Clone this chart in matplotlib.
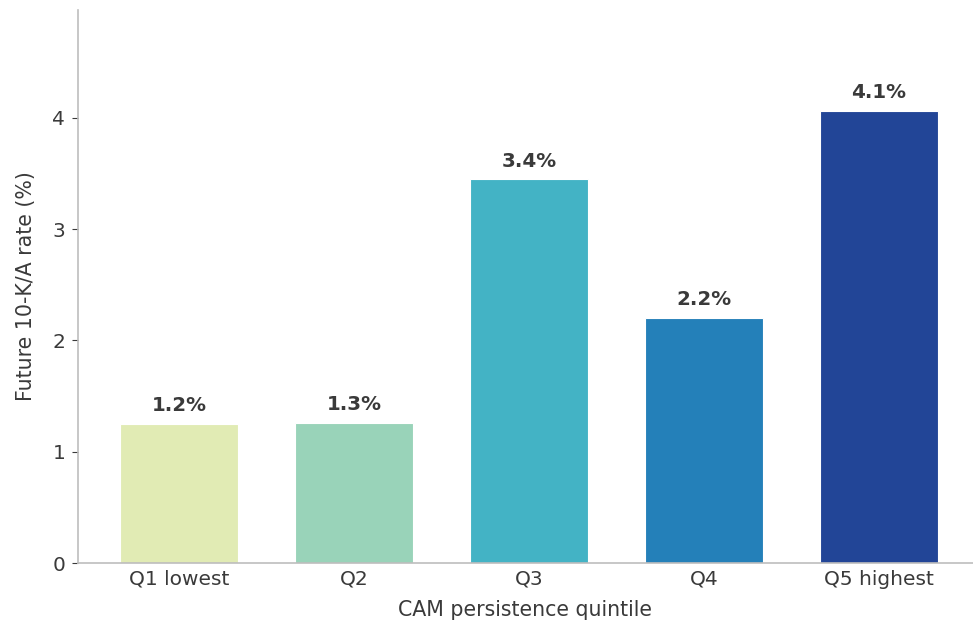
import matplotlib
matplotlib.use("Agg")
import matplotlib.pyplot as plt

# quintile rates
quintiles = ["Q1 lowest", "Q2", "Q3", "Q4", "Q5 highest"]
rates = [1.25, 1.262, 3.447, 2.20, 4.065]
colors = ["#e1ebb4", "#99d3b9", "#43b3c5", "#2480b9", "#224597"]

text_col = "#3a3a3a"
spine_col = "#bdbdbd"

fig = plt.figure(figsize=(9.73, 6.26), dpi=100)
ax = fig.add_axes([0.080, 0.1006, 0.92, 0.8834])

x = range(len(quintiles))
bars = ax.bar(x, rates, width=0.675, color=colors, edgecolor="white", linewidth=0.8)

for b, r in zip(bars, rates):
    ax.text(b.get_x() + b.get_width() / 2, r + 0.08, f"{r:.1f}%",
            ha="center", va="bottom", fontsize=14.3, fontweight="bold", color=text_col)

ax.set_xticks(list(x))
ax.set_xticklabels(quintiles)
ax.set_yticks([0, 1, 2, 3, 4])
ax.set_xlim(-0.577, 4.537)
ax.set_ylim(0, 4.97)

ax.tick_params(axis="x", length=0, pad=5, labelsize=14.5, labelcolor=text_col)
ax.tick_params(axis="y", length=4, color=text_col, labelsize=14.5, labelcolor=text_col, pad=5)

for s in ["top", "right"]:
    ax.spines[s].set_visible(False)
for s in ["left", "bottom"]:
    ax.spines[s].set_color(spine_col)
    ax.spines[s].set_linewidth(1.2)

ax.set_xlabel("CAM persistence quintile", fontsize=14.8, color=text_col, labelpad=8)
ax.set_ylabel("Future 10-K/A rate (%)", fontsize=14.8, color=text_col, labelpad=12)

fig.savefig("out.png", dpi=100)
